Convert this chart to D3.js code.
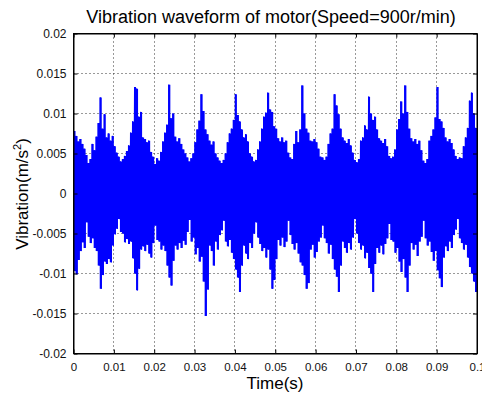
<!DOCTYPE html>
<html><head><meta charset="utf-8">
<script src="https://cdn.jsdelivr.net/npm/d3@7"></script>
<style>body{margin:0;background:#fff;overflow:hidden}</style>
</head><body>
<script>
const titleText = "Vibration waveform of motor(Speed=900r/min)";
const xLabelText = "Time(s)";
const xTicks = [0,0.01,0.02,0.03,0.04,0.05,0.06,0.07,0.08,0.09,0.1];
const xTickLabels = ["0","0.01","0.02","0.03","0.04","0.05","0.06","0.07","0.08","0.09","0.1"];
const yTicks = [-0.02,-0.015,-0.01,-0.005,0,0.005,0.01,0.015,0.02];
const yTickLabels = ["-0.02","-0.015","-0.01","-0.005","0","0.005","0.01","0.015","0.02"];
const sampleStep = 0.0005;   // seconds between read samples
const valueUnit = 0.001;     // values below are in 1e-3 m/s^2
// positive peaks, one per sample
const upperPeaks = [
7.8,7.2,6.5,6.8,6.2,5.6,4.8,3.8,4.3,6.2,5.4,7.1,8.8,12.0,8.1,9.9,7.0,7.5,6.6,7.2,
5.9,5.1,4.6,4.0,4.3,4.7,5.3,6.0,7.6,9.0,13.3,13.1,9.6,10.2,7.0,6.8,6.4,6.6,5.2,4.6,
3.7,4.4,4.1,5.2,6.5,7.6,8.6,13.6,9.4,10.0,7.1,6.5,6.9,6.2,5.5,5.0,4.5,4.0,4.4,5.0,
6.4,8.0,9.1,12.4,10.3,8.0,7.4,6.6,6.1,6.5,5.0,4.5,4.1,3.8,4.2,5.0,6.4,7.5,8.1,9.2,
12.4,9.8,9.0,8.0,7.0,7.4,6.5,5.0,4.6,4.0,4.2,5.5,6.5,8.1,9.6,10.1,12.6,10.5,10.2,8.4,
8.1,6.9,6.5,7.0,6.4,6.6,5.1,4.5,4.3,6.2,7.8,6.4,8.0,13.5,10.0,8.1,7.6,6.6,6.5,6.8,
6.4,5.6,4.6,4.5,4.2,4.6,6.2,7.5,8.1,12.4,11.0,9.9,8.1,7.0,6.6,6.3,6.8,6.0,5.1,4.2,
3.9,4.3,6.6,7.0,8.5,8.0,12.1,10.0,9.2,9.6,8.0,6.9,6.6,6.3,6.8,5.9,4.7,4.4,4.6,5.5,
8.0,9.3,11.5,10.0,13.5,10.2,8.1,6.9,6.5,6.8,6.2,6.6,5.4,4.1,3.8,4.3,6.6,7.2,8.0,9.5,
13.3,9.3,9.0,8.2,7.0,6.5,6.8,6.3,5.5,4.7,4.3,4.5,4.4,5.9,7.0,8.2,11.6,12.6,10.0,8.2,
6.5];
// negative peaks, one per sample
const lowerPeaks = [
-9.7,-10.1,-8.3,-7.2,-6.1,-6.8,-3.6,-5.4,-6.2,-5.6,-6.8,-7.2,-9.0,-11.9,-10.2,-8.5,-8.8,-8.2,-8.6,-6.5,
-5.1,-4.4,-3.2,-4.8,-5.0,-6.1,-5.7,-6.3,-6.0,-8.1,-10.0,-12.1,-9.4,-7.0,-6.6,-7.2,-6.4,-7.5,-8.0,-6.2,
-4.0,-5.8,-6.0,-7.0,-6.5,-7.2,-9.0,-10.5,-11.5,-8.4,-6.5,-7.0,-6.2,-6.8,-5.9,-6.4,-4.8,-3.3,-6.0,-5.5,
-7.6,-6.8,-8.5,-7.9,-11.0,-15.3,-12.0,-6.5,-7.2,-9.0,-6.0,-7.0,-5.2,-4.6,-3.4,-6.0,-6.6,-5.8,-7.4,-8.2,
-9.5,-10.5,-12.3,-9.0,-6.5,-7.5,-8.2,-6.2,-6.8,-5.0,-3.6,-5.5,-6.3,-7.2,-6.8,-8.0,-7.0,-9.5,-11.9,-10.8,
-8.2,-5.8,-6.5,-5.5,-6.7,-6.0,-3.4,-5.2,-6.3,-7.0,-6.2,-7.5,-8.6,-9.0,-10.2,-11.9,-11.2,-7.0,-6.4,-8.0,
-7.3,-6.0,-5.5,-4.0,-5.6,-6.2,-7.5,-6.4,-8.2,-9.5,-10.4,-12.3,-9.0,-6.0,-6.8,-7.4,-6.2,-7.0,-5.5,-3.2,
-5.0,-6.2,-7.0,-6.5,-8.1,-7.4,-9.3,-10.0,-12.3,-8.8,-6.8,-7.4,-6.5,-7.6,-6.3,-5.6,-3.8,-5.8,-6.0,-7.4,
-6.8,-8.5,-9.8,-8.2,-10.5,-12.3,-9.0,-6.2,-7.0,-6.4,-7.8,-6.0,-5.4,-3.4,-5.6,-6.5,-6.0,-7.3,-8.4,-7.2,
-9.6,-10.6,-11.7,-8.0,-6.6,-7.2,-6.0,-6.8,-5.2,-4.5,-3.2,-5.6,-6.2,-7.0,-6.4,-8.0,-9.2,-10.0,-11.0,-12.3,
-9.5];

const W = 482, H = 394;
const pL = 73.5, pR = 477, pT = 33.5, pB = 353.5;
const font = "Arial, 'Liberation Sans', Helvetica, sans-serif";

const svg = d3.select("body").append("svg").attr("width", W).attr("height", H);
const x = d3.scaleLinear().domain([0, 0.1]).range([pL, pR]);
const y = d3.scaleLinear().domain([-0.02, 0.02]).range([pB, pT]);

// grid
const grid = svg.append("g").attr("stroke", "#333").attr("stroke-width", 1)
  .attr("stroke-dasharray", "1,3").attr("fill", "none");
xTicks.slice(1, -1).forEach(t => {
  const px = Math.round(x(t) - 0.5) + 0.5;
  grid.append("line").attr("x1", px).attr("x2", px).attr("y1", pT).attr("y2", pB);
});
yTicks.slice(1, -1).forEach(t => {
  const py = Math.round(y(t) - 0.5) + 0.5;
  grid.append("line").attr("x1", pL).attr("x2", pR).attr("y1", py).attr("y2", py);
});

// waveform: dense signal drawn as per-sample columns between its peaks
svg.append("clipPath").attr("id", "clip").append("rect")
  .attr("x", pL).attr("y", pT).attr("width", pR - pL).attr("height", pB - pT);
const samples = upperPeaks.map((v, i) => ({ t: i * sampleStep, hi: v * valueUnit, lo: lowerPeaks[i] * valueUnit }));
samples.push({ t: samples.length * sampleStep, hi: samples[samples.length - 1].hi, lo: samples[samples.length - 1].lo });
svg.append("path").attr("clip-path", "url(#clip)")
  .attr("d", d3.area().curve(d3.curveStepAfter).x(d => x(d.t)).y0(d => y(d.lo)).y1(d => y(d.hi))(samples))
  .attr("fill", "#0000ff").attr("stroke", "none");
// thin trace on top for sample-to-sample spikes
const pts = [];
samples.slice(0, -1).forEach(d => {
  pts.push([d.t + sampleStep * 0.25, d.hi]);
  pts.push([d.t + sampleStep * 0.75, d.lo]);
});
svg.append("path").attr("clip-path", "url(#clip)")
  .attr("d", d3.line().x(d => x(d[0])).y(d => y(d[1]))(pts))
  .attr("fill", "none").attr("stroke", "#0000ff").attr("stroke-width", 1);

// axes (box with mirrored inward ticks)
const axL = d3.axisLeft(y).tickValues(yTicks).tickFormat((d, i) => yTickLabels[i]).tickSizeInner(-4).tickSizeOuter(0).tickPadding(7);
const axB = d3.axisBottom(x).tickValues(xTicks).tickFormat((d, i) => xTickLabels[i]).tickSizeInner(-4).tickSizeOuter(0).tickPadding(9);
const axR = d3.axisRight(y).tickValues(yTicks).tickFormat("").tickSizeInner(-4).tickSizeOuter(0);
const axT = d3.axisTop(x).tickValues(xTicks).tickFormat("").tickSizeInner(-4).tickSizeOuter(0);
const gL = svg.append("g").attr("transform", `translate(${pL},0)`).call(axL);
const gB = svg.append("g").attr("transform", `translate(0,${pB})`).call(axB);
svg.append("g").attr("transform", `translate(${pR},0)`).call(axR);
svg.append("g").attr("transform", `translate(0,${pT})`).call(axT);
svg.selectAll(".domain").attr("stroke", "#000").attr("stroke-width", 1);
svg.selectAll(".tick line").attr("stroke", "#000");
svg.selectAll(".tick text").attr("font-family", font).attr("fill", "#111");
gL.selectAll(".tick text").attr("font-size", 12);
gB.selectAll(".tick text").attr("font-size", 11.5);
svg.append("rect").attr("x", pL).attr("y", pT).attr("width", pR - pL).attr("height", pB - pT)
  .attr("fill", "none").attr("stroke", "#000").attr("stroke-width", 1);

// title and labels
svg.append("text").attr("x", 271).attr("y", 23).attr("text-anchor", "middle")
  .attr("font-family", font).attr("font-size", 18).attr("fill", "#000").text(titleText);
svg.append("text").attr("x", 275).attr("y", 389).attr("text-anchor", "middle")
  .attr("font-family", font).attr("font-size", 17).attr("fill", "#000").text(xLabelText);
const yl = svg.append("text").attr("transform", "translate(28,194) rotate(-90)").attr("text-anchor", "middle")
  .attr("font-family", font).attr("font-size", 17).attr("fill", "#000");
yl.append("tspan").text("Vibration(m/s");
yl.append("tspan").attr("font-size", 11).attr("dy", -7).text("2");
yl.append("tspan").attr("dy", 7).text(")");
</script>
</body></html>
